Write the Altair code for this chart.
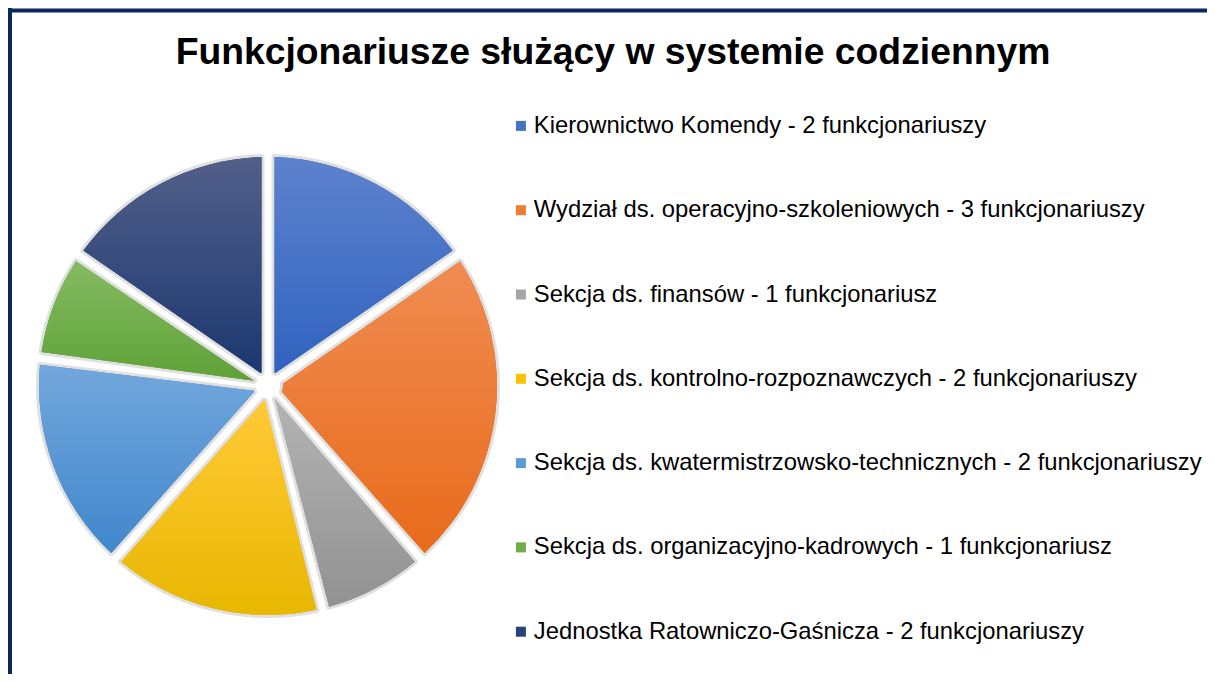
import math
import altair as alt
import pandas as pd

# ---- data ----
categories = [
    "Kierownictwo Komendy - 2 funkcjonariuszy",
    "Wydział ds. operacyjno-szkoleniowych - 3 funkcjonariuszy",
    "Sekcja ds. finansów - 1 funkcjonariusz",
    "Sekcja ds. kontrolno-rozpoznawczych - 2 funkcjonariuszy",
    "Sekcja ds. kwatermistrzowsko-technicznych - 2 funkcjonariuszy",
    "Sekcja ds. organizacyjno-kadrowych - 1 funkcjonariusz",
    "Jednostka Ratowniczo-Gaśnicza - 2 funkcjonariuszy",
]
values = [2, 3, 1, 2, 2, 1, 2]
order = [0, 1, 2, 3, 4, 5, 6]
title_text = "Funkcjonariusze służący w systemie codziennym"

# ---- styles ----
legend_colors = ["#4472c4", "#ed7d31", "#a5a5a5", "#ffc000", "#5b9bd5", "#70ad47", "#264478"]
grad_top = ["#5d82cd", "#f08c52", "#b3b3b3", "#ffca38", "#72a7dc", "#86bb63", "#525f89"]
grad_bottom = ["#3063bf", "#e86b1b", "#929292", "#e8b700", "#4187cc", "#5ea236", "#1c3870"]

df = pd.DataFrame({"kategoria": categories, "liczba": values, "kolejnosc": order})

W, H = 1194, 661
CX, CY, R, R_IN = 255, 373, 229, 15
PAD = 13 / R
FONT = "Liberation Sans"

base = (
    alt.Chart(df)
    .transform_joinaggregate(total="sum(liczba)")
    .transform_window(cum="sum(liczba)", sort=[alt.SortField("kolejnosc")])
    .transform_calculate(
        t0="(datum.cum - datum.liczba) / datum.total",
        t1="datum.cum / datum.total",
    )
)

theta_enc = dict(
    theta=alt.Theta("t0:Q", scale=alt.Scale(domain=[0, 1], range=[0, 2 * math.pi])),
    theta2=alt.Theta2("t1:Q"),
    x=alt.value(CX),
    y=alt.value(CY),
)

shadow = base.mark_arc(
    radius=R, radius2=R_IN, padAngle=PAD,
    stroke="#000000", strokeOpacity=0.12, strokeWidth=6, strokeJoin="round",
).encode(
    color=alt.Color(
        "kategoria:N",
        scale=alt.Scale(domain=categories, range=legend_colors),
        legend=alt.Legend(
            title=None,
            orient="none",
            legendX=496,
            legendY=101,
            symbolType="square",
            symbolSize=100,
            symbolStrokeWidth=0,
            symbolOpacity=1,
            labelFont=FONT,
            labelFontSize=23.8,
            labelColor="#000000",
            labelLimit=900,
            labelOffset=1,
            rowPadding=59.3,
            padding=0,
        ),
    ),
    **theta_enc,
)

slices = []
for i in order:
    grad = alt.LinearGradient(
        gradient="linear",
        stops=[
            alt.GradientStop(offset=0, color=grad_top[i]),
            alt.GradientStop(offset=1, color=grad_bottom[i]),
        ],
        x1=0, x2=0, y1=0, y2=1,
    )
    slices.append(
        base.transform_filter(alt.datum.kolejnosc == i)
        .mark_arc(radius=R, radius2=R_IN, padAngle=PAD, fill=grad)
        .encode(**theta_enc)
    )

title_layer = alt.Chart(pd.DataFrame({"t": [title_text]})).mark_text(
    font=FONT, fontSize=37.3, fontWeight="bold", align="center",
    baseline="alphabetic", color="#000000",
).encode(text="t:N", x=alt.value(600), y=alt.value(51))

frame_df = pd.DataFrame({"k": [0]})
top_rule = alt.Chart(frame_df).mark_rule(color="#0b2760", strokeWidth=4).encode(
    x=alt.value(-5), x2=alt.value(W), y=alt.value(-2.5)
)
left_rule = alt.Chart(frame_df).mark_rule(color="#0b2760", strokeWidth=4).encode(
    x=alt.value(-3), y=alt.value(-5), y2=alt.value(H)
)

chart = (
    alt.layer(shadow, *slices, title_layer, top_rule, left_rule)
    .properties(
        width=W,
        height=H,
        autosize=alt.AutoSizeParams(type="none"),
        padding={"left": 5, "top": 5, "right": 0, "bottom": 0},
        background="#ffffff",
    )
    .configure_view(stroke=None)
)

chart.save("out.html", embed_options={"renderer": "svg", "actions": False})
